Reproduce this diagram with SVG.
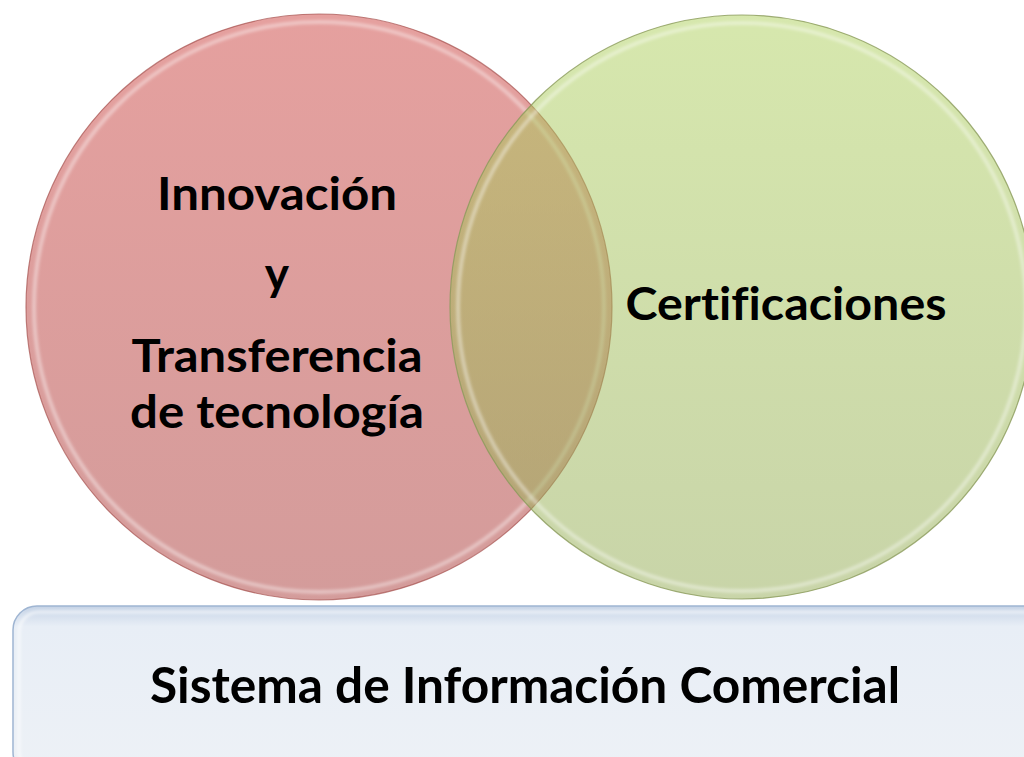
<svg xmlns="http://www.w3.org/2000/svg" width="1024" height="757" viewBox="0 0 1024 757">
<defs>
<linearGradient id="gRed" x1="0" y1="0" x2="0" y2="1">
<stop offset="0" stop-color="#d0524f"/>
<stop offset="1" stop-color="#b04a48"/>
</linearGradient>
<linearGradient id="gGreen" x1="0" y1="0" x2="0" y2="1">
<stop offset="0" stop-color="#aed05c"/>
<stop offset="1" stop-color="#92aa52"/>
</linearGradient>
<linearGradient id="gBox" x1="0" y1="0" x2="0" y2="1">
<stop offset="0" stop-color="#c5d3e6"/>
<stop offset="0.12" stop-color="#e8eef6"/>
<stop offset="1" stop-color="#edf1f6"/>
</linearGradient>
<filter id="soft" x="-10%" y="-10%" width="120%" height="120%">
<feGaussianBlur stdDeviation="1.5"/>
</filter>
<style>
.lbl{font-family:Lato,"Open Sans","Liberation Sans",sans-serif;font-weight:bold;fill:#000;text-anchor:middle;font-variant-ligatures:none}
.ring{fill:none;stroke:#ffffff;stroke-opacity:0.4;stroke-width:4}
</style>
</defs>
<rect width="1024" height="757" fill="#ffffff"/>
<g id="node-innovacion">
<circle cx="319" cy="307" r="293" fill="url(#gRed)" fill-opacity="0.55" stroke="#a5514f" stroke-opacity="0.7" stroke-width="1.2"/>
<circle class="ring" cx="319" cy="307" r="285" filter="url(#soft)"/>
</g>
<g id="node-certificaciones">
<circle cx="742" cy="307" r="292" fill="url(#gGreen)" fill-opacity="0.5" stroke="#8a9a5a" stroke-opacity="0.8" stroke-width="1.2"/>
<circle class="ring" cx="742" cy="307" r="284" filter="url(#soft)"/>
</g>
<g id="node-sistema">
<rect x="13" y="606" width="1040" height="170" rx="24" fill="url(#gBox)" stroke="#9fb5d2" stroke-width="1.5"/>
<rect x="19" y="612" width="1030" height="160" rx="20" fill="none" stroke="#ffffff" stroke-opacity="0.6" stroke-width="3" filter="url(#soft)"/>
</g>
<g id="connectors"></g>
<g id="labels">
<text class="lbl" x="277" y="210" font-size="46" textLength="240" lengthAdjust="spacingAndGlyphs">Innovación</text>
<text class="lbl" x="277" y="290" font-size="46">y</text>
<text class="lbl" x="277" y="372" font-size="46" textLength="291" lengthAdjust="spacingAndGlyphs">Transferencia</text>
<text class="lbl" x="277" y="428" font-size="46" textLength="294" lengthAdjust="spacingAndGlyphs">de tecnología</text>
<text class="lbl" x="786" y="320" font-size="46" textLength="321" lengthAdjust="spacingAndGlyphs">Certificaciones</text>
<text class="lbl" x="525" y="703" font-size="49" textLength="750" lengthAdjust="spacingAndGlyphs">Sistema de Información Comercial</text>
</g>
</svg>
